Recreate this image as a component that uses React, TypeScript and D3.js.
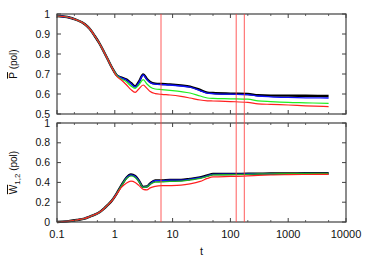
import * as d3 from "d3";

// shared time grid (t) for all series
const times = [
  0.1, 0.15, 0.22, 0.3, 0.37, 0.45, 0.55, 0.65, 0.75, 0.9, 1.07, 1.3, 1.6, 1.9, 2.25, 2.6,
  3.1, 3.6, 4.1, 5, 6.5, 9, 14, 20, 30, 40, 50, 100, 200, 300, 500, 1000, 2000, 5000,
];

// top panel: P (pol)
const pBlack = [
  0.99, 0.985, 0.97, 0.95, 0.925, 0.89, 0.85, 0.81, 0.775, 0.73, 0.695, 0.682, 0.672, 0.655,
  0.638, 0.66, 0.698, 0.675, 0.66, 0.652, 0.65, 0.648, 0.643, 0.637, 0.62, 0.607, 0.605,
  0.602, 0.6, 0.594, 0.592, 0.592, 0.591, 0.59,
];
const pBlue = [
  0.99, 0.985, 0.97, 0.95, 0.925, 0.89, 0.85, 0.81, 0.775, 0.73, 0.695, 0.681, 0.67, 0.652,
  0.635, 0.657, 0.695, 0.672, 0.657, 0.649, 0.647, 0.645, 0.64, 0.634, 0.617, 0.604, 0.602,
  0.599, 0.597, 0.59, 0.586, 0.583, 0.581, 0.58,
];
const pGreen = [
  0.99, 0.985, 0.97, 0.95, 0.925, 0.89, 0.85, 0.81, 0.775, 0.73, 0.694, 0.675, 0.66, 0.64,
  0.628, 0.645, 0.672, 0.65, 0.635, 0.625, 0.622, 0.618, 0.612, 0.605, 0.59, 0.58, 0.578,
  0.576, 0.574, 0.566, 0.562, 0.558, 0.556, 0.553,
];
const pRed = [
  0.99, 0.985, 0.97, 0.95, 0.925, 0.89, 0.85, 0.81, 0.775, 0.73, 0.69, 0.67, 0.645, 0.622,
  0.608, 0.625, 0.645, 0.628, 0.612, 0.602, 0.598, 0.595, 0.588, 0.58, 0.57, 0.566, 0.565,
  0.562, 0.558, 0.551, 0.548, 0.545, 0.541, 0.537,
];

// bottom panel: W_{1,2} (pol)
const wBlack = [
  0.0, 0.006, 0.02, 0.035, 0.055, 0.075, 0.1, 0.135, 0.17, 0.22, 0.285, 0.37, 0.45, 0.48,
  0.465, 0.42, 0.355, 0.36, 0.39, 0.42, 0.42, 0.425, 0.425, 0.435, 0.45, 0.47, 0.485, 0.485,
  0.487, 0.488, 0.49, 0.49, 0.492, 0.492,
];
const wBlue = [
  0.0, 0.006, 0.02, 0.035, 0.055, 0.075, 0.1, 0.135, 0.17, 0.22, 0.284, 0.368, 0.447, 0.477,
  0.462, 0.417, 0.353, 0.358, 0.387, 0.417, 0.417, 0.422, 0.422, 0.432, 0.447, 0.467, 0.482,
  0.483, 0.485, 0.486, 0.488, 0.489, 0.49, 0.49,
];
const wGreen = [
  0.0, 0.006, 0.02, 0.035, 0.055, 0.075, 0.1, 0.135, 0.17, 0.22, 0.283, 0.365, 0.44, 0.465,
  0.45, 0.41, 0.35, 0.355, 0.38, 0.403, 0.405, 0.41, 0.413, 0.425, 0.44, 0.46, 0.475, 0.478,
  0.482, 0.485, 0.487, 0.488, 0.49, 0.49,
];
const wRed = [
  0.0, 0.006, 0.02, 0.035, 0.055, 0.075, 0.1, 0.135, 0.17, 0.218, 0.28, 0.35, 0.395, 0.412,
  0.4, 0.37, 0.33, 0.325, 0.345, 0.36, 0.367, 0.368, 0.372, 0.385, 0.41, 0.44, 0.455, 0.46,
  0.465, 0.47, 0.475, 0.478, 0.48, 0.482,
];

const markerTimes = [6.3, 126, 174];

const xTicks = [0.1, 1, 10, 100, 1000, 10000];
const topYTicks = [0.5, 0.6, 0.7, 0.8, 0.9, 1];
const botYTicks = [0, 0.2, 0.4, 0.6, 0.8, 1];

const W = 365;
const H = 256;
const LEFT = 57;
const RIGHT = 346;
const TOP1 = 14;
const BOT1 = 114;
const TOP2 = 123;
const BOT2 = 222;
const FRAME = "#404040";
const FONT = "'Liberation Sans', Arial, sans-serif";

const x = d3.scaleLog().domain([0.1, 10000]).range([LEFT, RIGHT]);
const yTop = d3.scaleLinear().domain([0.5, 1]).range([BOT1, TOP1]);
const yBot = d3.scaleLinear().domain([0, 1]).range([BOT2, TOP2]);

const minorTicks: number[] = [];
for (let e = -1; e < 4; e++) {
  for (const m of [2, 5]) minorTicks.push(m * Math.pow(10, e));
}

const fmt = d3.format("~g");

function Panel({
  y,
  yTicks,
  series,
}: {
  y: d3.ScaleLinear<number, number>;
  yTicks: number[];
  series: { vals: number[]; color: string; width: number }[];
}) {
  const [y0, y1] = y.range();
  const line = (vals: number[]) =>
    d3
      .line<number>()
      .x((_, i) => x(times[i]))
      .y((v) => y(v))
      .curve(d3.curveMonotoneX)(vals) || "";
  return (
    <g>
      {series.map((s, i) => (
        <path key={i} d={line(s.vals)} fill="none" stroke={s.color} strokeWidth={s.width} />
      ))}
      {xTicks.map((t) => (
        <g key={"x" + t} stroke={FRAME} strokeWidth={1}>
          <line x1={x(t)} x2={x(t)} y1={y0} y2={y0 - 4} />
          <line x1={x(t)} x2={x(t)} y1={y1} y2={y1 + 4} />
        </g>
      ))}
      {minorTicks.map((t) => (
        <g key={"m" + t} stroke={FRAME} strokeWidth={0.8}>
          <line x1={x(t)} x2={x(t)} y1={y0} y2={y0 - 2} />
          <line x1={x(t)} x2={x(t)} y1={y1} y2={y1 + 2} />
        </g>
      ))}
      {yTicks.map((v) => (
        <g key={"y" + v}>
          <line x1={LEFT} x2={LEFT + 4} y1={y(v)} y2={y(v)} stroke={FRAME} />
          <line x1={RIGHT} x2={RIGHT - 4} y1={y(v)} y2={y(v)} stroke={FRAME} />
          <text
            x={LEFT - 7}
            y={y(v)}
            dy="0.35em"
            textAnchor="end"
            fontSize={10.5}
            fontFamily={FONT}
            fill="#111"
          >
            {fmt(v)}
          </text>
        </g>
      ))}
      <rect
        x={LEFT}
        y={y1}
        width={RIGHT - LEFT}
        height={y0 - y1}
        fill="none"
        stroke={FRAME}
        strokeWidth={1.2}
      />
    </g>
  );
}

export default function App() {
  return (
    <div style={{ position: "absolute", left: 0, top: 0 }}>
      <svg width={W} height={H} style={{ display: "block", background: "#fff" }}>
        <Panel
          y={yTop}
          yTicks={topYTicks}
          series={[
            { vals: pBlack, color: "#000", width: 2.4 },
            { vals: pBlue, color: "#1010ff", width: 1.3 },
            { vals: pGreen, color: "#20ee20", width: 1.2 },
            { vals: pRed, color: "#ff2020", width: 1.2 },
          ]}
        />
        <Panel
          y={yBot}
          yTicks={botYTicks}
          series={[
            { vals: wBlack, color: "#000", width: 2.4 },
            { vals: wBlue, color: "#1010ff", width: 1.3 },
            { vals: wGreen, color: "#20b020", width: 1.3 },
            { vals: wRed, color: "#ff2020", width: 1.2 },
          ]}
        />
        {markerTimes.map((t) => (
          <line
            key={t}
            x1={x(t)}
            x2={x(t)}
            y1={TOP1}
            y2={BOT2}
            stroke="#ff4040"
            strokeWidth={1}
            opacity={0.85}
          />
        ))}
        {xTicks.map((t) => (
          <text
            key={t}
            x={x(t)}
            y={BOT2 + 16}
            textAnchor="middle"
            fontSize={11}
            fontFamily={FONT}
            fill="#111"
          >
            {fmt(t)}
          </text>
        ))}
        <text
          x={(LEFT + RIGHT) / 2}
          y={BOT2 + 33}
          textAnchor="middle"
          fontSize={11}
          fontFamily={FONT}
          fill="#111"
        >
          t
        </text>
        <text
          transform={`translate(17,${(TOP1 + BOT1) / 2}) rotate(-90)`}
          textAnchor="middle"
          fontSize={10}
          fontFamily={FONT}
          fill="#111"
        >
          <tspan style={{ textDecoration: "overline" }}>P</tspan> (pol)
        </text>
        <text
          transform={`translate(17,${(TOP2 + BOT2) / 2}) rotate(-90)`}
          textAnchor="middle"
          fontSize={10}
          fontFamily={FONT}
          fill="#111"
        >
          <tspan style={{ textDecoration: "overline" }}>W</tspan>
          <tspan fontSize={8} dy={3}>
            1,2
          </tspan>
          <tspan dy={-3}> (pol)</tspan>
        </text>
      </svg>
    </div>
  );
}
